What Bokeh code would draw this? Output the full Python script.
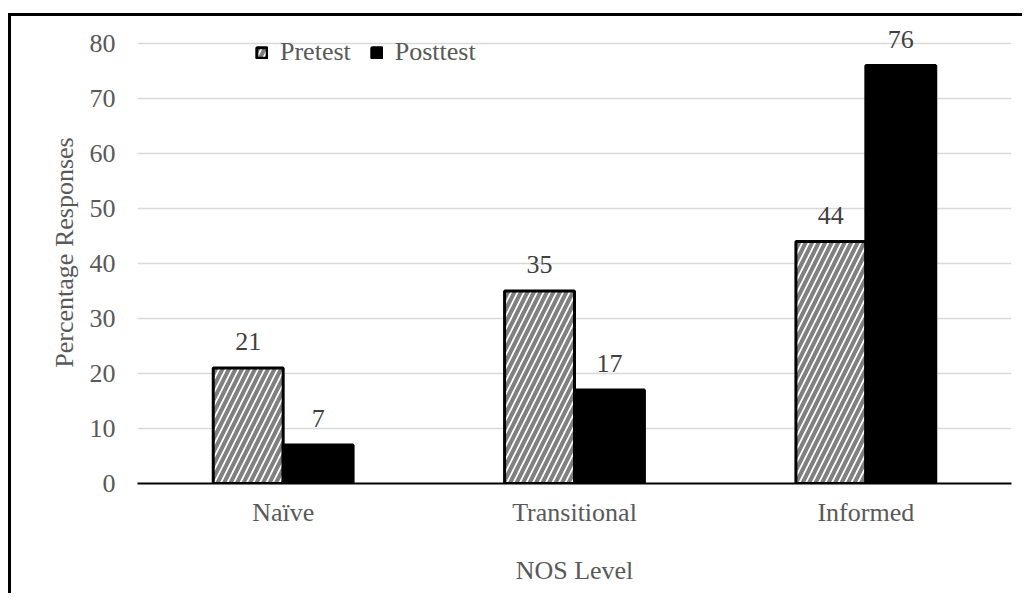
from bokeh.plotting import figure
from bokeh.models import ColumnDataSource, FactorRange, Range1d, FixedTicker, LabelSet, Legend, LegendItem
from bokeh.transform import dodge
from bokeh.embed import file_html
from bokeh.resources import INLINE

categories = ["Naïve", "Transitional", "Informed"]
pretest = [21, 35, 44]
posttest = [7, 17, 76]
y_ticks = [0, 10, 20, 30, 40, 50, 60, 70, 80]

FONT = "Liberation Serif"
FS = "26px"
GRAY = "#595959"

src = ColumnDataSource(data=dict(
    cat=categories,
    pre=pretest,
    post=posttest,
    pre_lbl=[str(v) for v in pretest],
    post_lbl=[str(v) for v in posttest],
))

p = figure(x_range=FactorRange(factors=categories, range_padding=0),
           y_range=Range1d(0, 84),
           width=1014, height=580,
           output_backend="svg", toolbar_location=None,
           min_border_left=126, min_border_right=14,
           min_border_top=5, min_border_bottom=113)
p.styles = {"border-left": "3px solid black", "border-top": "3px solid black",
            "margin-top": "13px", "margin-left": "8px"}

p.outline_line_color = None
p.background_fill_color = "white"
p.border_fill_color = "white"

r_pre = p.vbar(x=dodge("cat", -0.12, range=p.x_range), top="pre", width=0.24, source=src,
               fill_color="white", line_color="black", line_width=3,
               hatch_pattern="/", hatch_color="#808080", hatch_weight=4, hatch_scale=13)
r_post = p.vbar(x=dodge("cat", 0.12, range=p.x_range), top="post", width=0.24, source=src,
                fill_color="black", line_color="black", line_width=3)

lbl_pre = LabelSet(x=dodge("cat", -0.12, range=p.x_range), y="pre", text="pre_lbl", source=src,
                   text_align="center", text_baseline="alphabetic", y_offset=18,
                   text_font=FONT, text_font_size=FS, text_color="#404040")
lbl_post = LabelSet(x=dodge("cat", 0.12, range=p.x_range), y="post", text="post_lbl", source=src,
                    text_align="center", text_baseline="alphabetic", y_offset=18,
                    text_font=FONT, text_font_size=FS, text_color="#404040")
p.add_layout(lbl_pre)
p.add_layout(lbl_post)

# grid
p.xgrid.grid_line_color = None
p.ygrid.grid_line_color = "#d9d9d9"
p.ygrid.grid_line_width = 1.5
p.yaxis.ticker = FixedTicker(ticks=y_ticks)

# x axis
p.xaxis.axis_line_color = "black"
p.xaxis.axis_line_width = 2
p.xaxis.major_tick_line_color = None
p.xaxis.minor_tick_line_color = None
p.xaxis.major_tick_out = 0
p.xaxis.major_label_standoff = 14
p.xaxis.major_label_text_font = FONT
p.xaxis.major_label_text_font_size = FS
p.xaxis.major_label_text_color = GRAY
p.xaxis.axis_label = "NOS Level"
p.xaxis.axis_label_text_font = FONT
p.xaxis.axis_label_text_font_size = FS
p.xaxis.axis_label_text_font_style = "normal"
p.xaxis.axis_label_text_color = GRAY
p.xaxis.axis_label_standoff = 26

# y axis
p.yaxis.axis_line_color = None
p.yaxis.major_tick_line_color = None
p.yaxis.minor_tick_line_color = None
p.yaxis.major_tick_out = 0
p.yaxis.major_label_standoff = 22
p.yaxis.major_label_text_font = FONT
p.yaxis.major_label_text_font_size = FS
p.yaxis.major_label_text_color = GRAY
p.yaxis.axis_label = "Percentage Responses"
p.yaxis.axis_label_text_font = FONT
p.yaxis.axis_label_text_font_size = FS
p.yaxis.axis_label_text_font_style = "normal"
p.yaxis.axis_label_text_color = GRAY
p.yaxis.axis_label_standoff = 8

legend = Legend(items=[LegendItem(label="Pretest", renderers=[r_pre]),
                       LegendItem(label="Posttest", renderers=[r_post])],
                orientation="horizontal", location=(118, 416),
                padding=0, margin=0, spacing=19, label_standoff=12,
                glyph_width=13, glyph_height=13, label_height=30,
                label_text_font=FONT, label_text_font_size=FS, label_text_color=GRAY,
                background_fill_alpha=0, border_line_color=None)
p.add_layout(legend, "center")

open("out.html", "w").write(file_html(p, INLINE))
